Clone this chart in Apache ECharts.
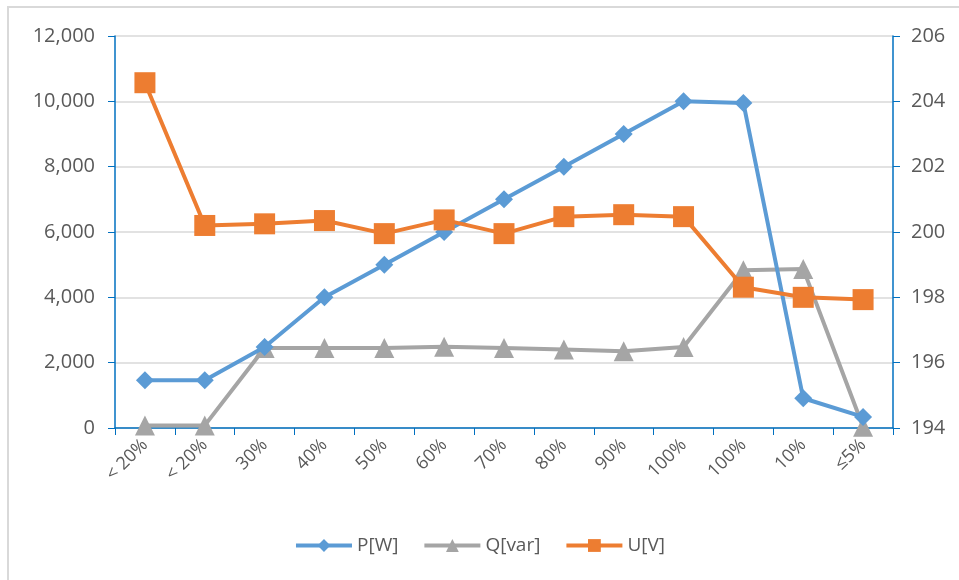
<!DOCTYPE html>
<html>
<head>
<meta charset="utf-8">
<script src="https://cdn.jsdelivr.net/npm/echarts@6/dist/echarts.min.js"></script>
<style>
  html, body { margin: 0; padding: 0; background: #fff; }
  #frame { position: absolute; left: 7px; top: 6px; width: 960px; height: 580px;
           border-top: 2px solid #d9d9d9; border-left: 2px solid #d9d9d9; }
  #chart { position: absolute; left: 0; top: 0; width: 959px; height: 580px; }
</style>
</head>
<body>
<div id="frame"></div>
<div id="chart"></div>
<script>
// categories on the x axis (duplicates are in the original)
const categories = ['< 20%', '< 20%', '30%', '40%', '50%', '60%', '70%', '80%', '90%', '100%', '100%', '10%', '≤5%']

// P[W] - active power, left axis
const pValues = [1460, 1460, 2480, 4000, 5000, 6000, 7000, 8000, 9000, 10000, 9950, 910, 340]
// Q[var] - reactive power, left axis
const qValues = [80, 80, 2450, 2450, 2450, 2490, 2450, 2400, 2350, 2480, 4830, 4870, 40]
// U[V] - voltage, right axis
const uValues = [204.57, 200.2, 200.25, 200.35, 199.95, 200.37, 199.95, 200.47, 200.53, 200.47, 198.31, 198.0, 197.93]

const labelColor = '#595959'
const axisBlue = '#0070c0'
const font = 'Open Sans'

let chart = echarts.init(document.getElementById('chart'))

let option = {
    animation: false,
    backgroundColor: 'transparent',
    grid: {
        left: 115,
        right: 66,
        top: 36,
        bottom: 152
    },
    legend: {
        bottom: 20,
        left: 'center',
        itemWidth: 56,
        itemHeight: 16,
        itemGap: 24,
        lineStyle: { width: 4 },
        textStyle: { color: labelColor, fontSize: 19, fontFamily: font },
        data: ['P[W]', 'Q[var]', 'U[V]']
    },
    xAxis: {
        type: 'category',
        data: categories,
        boundaryGap: true,
        axisLine: { lineStyle: { color: axisBlue, width: 1.5 } },
        axisTick: { show: true, length: 7, lineStyle: { color: axisBlue } },
        axisLabel: {
            color: labelColor,
            fontSize: 18,
            fontFamily: font,
            rotate: 45,
            interval: 0,
            margin: 14
        }
    },
    yAxis: [
        {
            type: 'value',
            min: 0,
            max: 12000,
            interval: 2000,
            axisLine: { show: true, lineStyle: { color: axisBlue, width: 1.5 } },
            axisTick: { show: true, length: 7, lineStyle: { color: axisBlue } },
            splitLine: { lineStyle: { color: '#d9d9d9', width: 1.5 } },
            axisLabel: {
                color: labelColor,
                fontSize: 20,
                fontFamily: font,
                margin: 20,
                formatter: v => v.toLocaleString('en-US')
            }
        },
        {
            type: 'value',
            min: 194,
            max: 206,
            interval: 2,
            position: 'right',
            axisLine: { show: true, lineStyle: { color: axisBlue, width: 1.5 } },
            axisTick: { show: true, length: 7, lineStyle: { color: axisBlue } },
            splitLine: { show: false },
            axisLabel: {
                color: labelColor,
                fontSize: 20,
                fontFamily: font,
                margin: 18
            }
        }
    ],
    series: [
        {
            name: 'P[W]',
            type: 'line',
            yAxisIndex: 0,
            data: pValues,
            symbol: 'diamond',
            symbolSize: 18,
            lineStyle: { color: '#5b9bd5', width: 4 },
            itemStyle: { color: '#5b9bd5' },
            z: 3
        },
        {
            name: 'Q[var]',
            type: 'line',
            yAxisIndex: 0,
            data: qValues,
            symbol: 'triangle',
            symbolSize: 20,
            lineStyle: { color: '#a5a5a5', width: 4 },
            itemStyle: { color: '#a5a5a5' },
            z: 2
        },
        {
            name: 'U[V]',
            type: 'line',
            yAxisIndex: 1,
            data: uValues,
            symbol: 'rect',
            symbolSize: 21,
            lineStyle: { color: '#ed7d31', width: 4 },
            itemStyle: { color: '#ed7d31' },
            z: 4
        }
    ]
}

chart.setOption(option)
</script>
</body>
</html>
